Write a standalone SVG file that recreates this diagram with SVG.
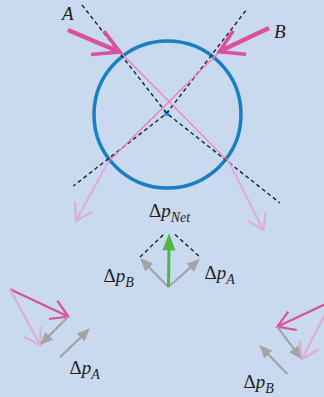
<svg xmlns="http://www.w3.org/2000/svg" width="324" height="397" viewBox="0 0 324 397">
<style>
.lbl{font-family:"Liberation Serif","DejaVu Serif",serif;font-size:19px;fill:#231f20}
.it{font-style:italic}
.sub{font-style:italic;font-size:14px}
.dash{fill:none;stroke:#222;stroke-width:1.4;stroke-dasharray:4 3}
.thick{fill:none;stroke:#d9509c;stroke-width:4.5;stroke-linecap:butt}
.barbT{fill:none;stroke:#d9509c;stroke-width:3.5;stroke-linejoin:miter}
.thin{fill:none;stroke:#ec7fb0;stroke-width:1.2}
.lp{fill:none;stroke:#dcaed8;stroke-width:2.2}
.pk{fill:none;stroke:#d9509c;stroke-width:2.2}
.gray{fill:none;stroke:#a4a4a4;stroke-width:2.2}
.green{fill:none;stroke:#4cb848;stroke-width:3}
</style>
<defs>
<marker id="gh" markerUnits="userSpaceOnUse" orient="auto" refX="3" refY="0" markerWidth="20" markerHeight="20" style="overflow:visible">
<path d="M0,-5.5 L13,0 L0,5.5 Z" fill="#a4a4a4"/>
</marker>
<marker id="grh" markerUnits="userSpaceOnUse" orient="auto" refX="3" refY="0" markerWidth="20" markerHeight="20" style="overflow:visible">
<path d="M0,-6.5 L17,0 L0,6.5 Z" fill="#4cb848"/>
</marker>
</defs>
<rect width="324" height="397" fill="#c9d9ef"/>

<g id="circle">
<circle cx="167.5" cy="114.5" r="73.5" fill="none" stroke="#1a7fc0" stroke-width="3.5"/>
<rect x="164.2" y="110.8" width="5" height="5" fill="#1ea6dc"/>
</g>

<g id="connectors">
<polyline class="dash" points="82,5 166.7,113.3 280,203"/>
<polyline class="dash" points="245.7,10.7 166.7,113.3 73.3,186"/>
<line class="thin" x1="120" y1="52" x2="229.3" y2="162.7"/>
<line class="thin" x1="219.3" y1="52" x2="108.3" y2="161.7"/>
<path class="lp" d="M229.3,162.7 L263.3,230 M248.3,220.7 L263.3,230 L265.7,211.7"/>
<path class="lp" d="M108.3,161.7 L76,220.7 M75,202 L76,220.7 L92.3,211.7"/>
</g>

<g id="arrowA">
<line class="thick" x1="68" y1="30" x2="118" y2="51.2"/>
<path class="barbT" d="M104,31 L120,52 L91,54.5"/>
<text class="lbl it" x="62" y="20" font-size="20">A</text>
</g>

<g id="arrowB">
<line class="thick" x1="269" y1="28" x2="221" y2="50.8"/>
<path class="barbT" d="M233.3,30.7 L219.3,51.7 L246,54.3"/>
<text class="lbl it" x="274" y="38" font-size="20">B</text>
</g>

<g id="vectorSum">
<polyline class="dash" points="140,257 163.5,234.5"/>
<polyline class="dash" points="175,234.5 200,257"/>
<line class="gray" x1="168.3" y1="287" x2="147" y2="265.2" marker-end="url(#gh)"/>
<line class="gray" x1="168.3" y1="287" x2="192.5" y2="265.6" marker-end="url(#gh)"/>
<line class="green" x1="168.5" y1="287" x2="169" y2="247.3" marker-end="url(#grh)"/>
<text class="lbl" x="149" y="217">Δ<tspan class="it">p</tspan><tspan class="sub" dy="5">Net</tspan></text>
<text class="lbl" x="103.5" y="282">Δ<tspan class="it">p</tspan><tspan class="sub" dy="5">B</tspan></text>
<text class="lbl" x="204.5" y="278.5">Δ<tspan class="it">p</tspan><tspan class="sub" dy="5">A</tspan></text>
</g>

<g id="clusterA">
<path class="pk" d="M10,289.3 L68.3,316.5 M57.3,300.7 L68.3,316.5 L49,319"/>
<path class="lp" d="M10,289.3 L40,345 M40.7,326.7 L40,345 L24,336.7"/>
<line class="gray" x1="68.3" y1="316.5" x2="47" y2="337.9" marker-end="url(#gh)"/>
<line class="gray" x1="60" y1="357.3" x2="82.8" y2="335.3" marker-end="url(#gh)"/>
<text class="lbl" x="69.5" y="373.5">Δ<tspan class="it">p</tspan><tspan class="sub" dy="5">A</tspan></text>
</g>

<g id="clusterB">
<path class="pk" d="M332,301 L277.3,326.7 M288.3,311.7 L277.3,326.7 L296.7,330"/>
<path class="lp" d="M332,301 L301.7,359.3 M300,340.7 L301.7,359.3 L319,349"/>
<line class="gray" x1="277.3" y1="326.7" x2="295.7" y2="351.3" marker-end="url(#gh)"/>
<line class="gray" x1="287.3" y1="374" x2="266.2" y2="352.2" marker-end="url(#gh)"/>
<text class="lbl" x="243.5" y="387.5">Δ<tspan class="it">p</tspan><tspan class="sub" dy="5">B</tspan></text>
</g>
</svg>
